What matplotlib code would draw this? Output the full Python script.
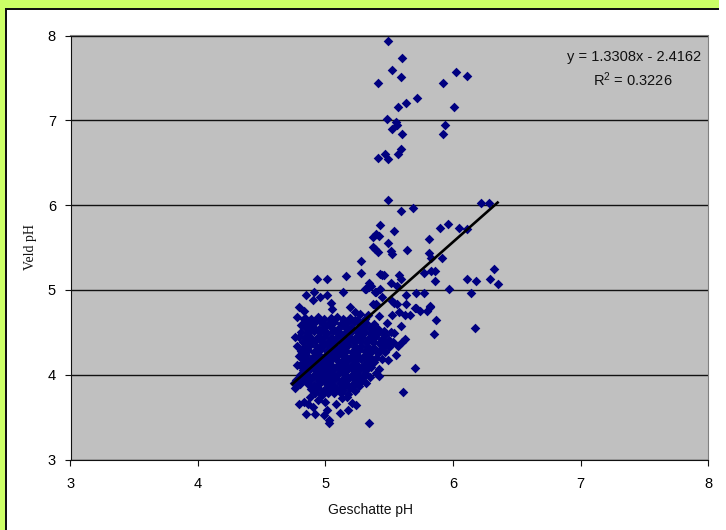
import matplotlib
matplotlib.use("Agg")
import matplotlib.pyplot as plt
from matplotlib.patches import Rectangle

plt.rcParams["mathtext.default"] = "regular"

# values (geschatte pH, veld pH)
upper_pts = [(5.49,7.94),(5.60,7.73),(5.52,7.59),(5.59,7.51),(5.41,7.44),(6.02,7.57),(6.11,7.52),(5.92,7.44),
    (5.72,7.26),(5.63,7.20),(5.57,7.16),(6.01,7.16),(5.48,7.01),(5.55,6.98),(5.56,6.95),(5.52,6.90),
    (5.94,6.94),(5.92,6.84),(5.60,6.84),(5.59,6.66),(5.57,6.60),(5.47,6.60),(5.41,6.56),(5.49,6.54)]

mid_pts = [(5.49,6.06),(6.22,6.02),(6.28,6.02),(5.69,5.97),(5.59,5.93),(5.96,5.78),(5.90,5.73),(6.05,5.73),
    (6.11,5.72),(5.43,5.76),(5.54,5.69),(5.40,5.66),(5.37,5.62),(5.42,5.64),(5.81,5.60),(5.49,5.55),
    (5.37,5.51),(5.39,5.48),(5.41,5.45),(5.51,5.46),(5.52,5.42),(5.64,5.47),(5.81,5.43),(5.83,5.38),
    (5.91,5.38),(5.28,5.34),(5.28,5.20),(5.44,5.17),(5.46,5.17),(5.58,5.17),(5.59,5.13),(5.77,5.20),
    (5.83,5.22),(5.86,5.22),(5.86,5.11),(6.32,5.25),(6.11,5.13),(6.18,5.11),(6.29,5.13),(6.35,5.07),
    (5.97,5.01),(6.14,4.96),(5.51,5.08),(5.56,5.05),(5.34,5.08),(5.36,5.05),(5.31,5.01),(5.34,5.03),
    (5.43,5.01),(5.39,4.97),(5.44,4.92),(5.63,4.94),(5.71,4.96),(5.77,4.96),(5.52,4.87),(5.56,4.83),
    (5.63,4.83),(5.37,4.83),(5.40,4.83),(5.70,4.79),(5.82,4.80),(5.87,4.65),(5.85,4.48),(5.70,4.08),
    (5.82,4.81),(5.80,4.75),(5.74,4.75),(5.71,4.79),(5.66,4.70),(5.62,4.70),(5.58,4.74),(5.54,4.84),
    (5.52,4.70),(5.59,4.57),(5.62,4.42),(5.60,4.38),(5.57,4.34),(5.54,4.49),(5.55,4.23),(5.42,4.69),
    (5.48,4.61),(5.49,4.17),(5.44,4.18),(5.42,4.07),(5.40,4.02),(5.42,3.98),(6.17,4.55),(5.61,3.80),
    (5.16,5.16),(4.93,5.13),(5.01,5.13),(5.14,4.97),(4.85,4.94),(4.91,4.97),(4.90,4.88),(4.96,4.92),
    (5.01,4.94),(5.04,4.85),(5.05,4.78),(5.19,4.80),(4.79,4.80),(4.83,4.75),(4.78,4.68),(4.83,4.66),
    (4.81,4.59),(5.23,4.74),(5.27,4.72),(5.32,5.01),(5.40,4.98),(5.39,4.82),(5.33,4.70),(5.43,5.19)]

low_pts = [(5.34,3.43),(5.03,3.43),(5.03,3.47),(5.11,3.55),(5.01,3.58),(4.99,3.53),(4.92,3.54),(4.85,3.54),
    (5.18,3.58),(5.21,3.67),(5.24,3.64),(4.79,3.65),(4.86,3.65),(4.90,3.62),(4.83,3.68),(4.76,3.84),
    (4.75,3.90),(4.77,3.94),(4.76,4.44),(4.79,4.22),(4.78,4.12),(5.08,3.66),(4.94,3.70),(5.00,3.68),
    (5.13,3.72),(5.17,3.74),(4.88,3.74),(4.97,3.76)]

blob_pts = [(4.84,4.67),(4.89,4.66),(4.94,4.68),(4.99,4.66),(5.04,4.67),(5.09,4.68),(5.14,4.66),(5.19,4.67),(5.25,4.65),(5.31,4.66),
    (4.83,4.61),(4.87,4.60),(4.92,4.62),(4.97,4.61),(5.02,4.60),(5.07,4.62),(5.12,4.60),(5.17,4.61),(5.22,4.62),(5.27,4.60),(5.32,4.61),(5.38,4.60),
    (4.85,4.55),(4.90,4.56),(4.95,4.54),(5.00,4.56),(5.05,4.55),(5.10,4.54),(5.15,4.56),(5.20,4.55),(5.25,4.54),(5.30,4.56),(5.35,4.55),(5.41,4.54),(5.46,4.52),
    (4.81,4.50),(4.86,4.49),(4.91,4.51),(4.96,4.50),(5.01,4.49),(5.06,4.51),(5.11,4.49),(5.16,4.50),(5.21,4.51),(5.26,4.49),(5.31,4.50),(5.36,4.48),(5.41,4.49),(5.47,4.47),(5.51,4.50),
    (4.79,4.44),(4.84,4.45),(4.89,4.43),(4.94,4.45),(4.99,4.44),(5.04,4.43),(5.09,4.45),(5.14,4.44),(5.19,4.43),(5.24,4.45),(5.29,4.44),(5.34,4.43),(5.39,4.44),(5.44,4.42),(5.50,4.41),
    (4.82,4.39),(4.87,4.38),(4.92,4.40),(4.97,4.38),(5.02,4.39),(5.07,4.40),(5.12,4.38),(5.17,4.39),(5.22,4.38),(5.27,4.40),(5.32,4.38),(5.37,4.39),(5.42,4.37),(5.48,4.36),(5.53,4.38),
    (4.78,4.34),(4.83,4.33),(4.88,4.35),(4.93,4.33),(4.98,4.34),(5.03,4.35),(5.08,4.33),(5.13,4.34),(5.18,4.35),(5.23,4.33),(5.28,4.34),(5.33,4.33),(5.38,4.32),(5.44,4.31),(5.50,4.33),
    (4.81,4.28),(4.86,4.29),(4.91,4.27),(4.96,4.29),(5.01,4.28),(5.06,4.27),(5.11,4.29),(5.16,4.28),(5.21,4.27),(5.26,4.29),(5.31,4.28),(5.36,4.27),(5.41,4.26),(5.47,4.27),
    (4.80,4.22),(4.85,4.23),(4.90,4.21),(4.95,4.23),(5.00,4.22),(5.05,4.21),(5.10,4.23),(5.15,4.22),(5.20,4.21),(5.25,4.23),(5.30,4.22),(5.35,4.21),(5.40,4.20),
    (4.83,4.17),(4.88,4.16),(4.93,4.18),(4.98,4.16),(5.03,4.17),(5.08,4.18),(5.13,4.16),(5.18,4.17),(5.23,4.16),(5.28,4.18),(5.33,4.16),(5.38,4.15),
    (4.80,4.11),(4.85,4.12),(4.90,4.10),(4.95,4.12),(5.00,4.11),(5.05,4.10),(5.10,4.12),(5.15,4.11),(5.20,4.10),(5.25,4.12),(5.30,4.11),(5.36,4.09),
    (4.82,4.06),(4.87,4.05),(4.92,4.07),(4.97,4.05),(5.02,4.06),(5.07,4.07),(5.12,4.05),(5.17,4.06),(5.22,4.05),(5.27,4.07),(5.32,4.05),
    (4.80,4.00),(4.85,4.01),(4.90,3.99),(4.95,4.01),(5.00,4.00),(5.05,3.99),(5.10,4.01),(5.15,4.00),(5.20,3.99),(5.25,4.01),(5.30,3.99),(5.35,3.97),
    (4.83,3.95),(4.88,3.94),(4.93,3.96),(4.98,3.94),(5.03,3.95),(5.08,3.96),(5.13,3.94),(5.18,3.95),(5.23,3.94),(5.28,3.93),(5.32,3.90),
    (4.80,3.89),(4.86,3.89),(4.91,3.88),(4.96,3.90),(5.01,3.89),(5.06,3.88),(5.11,3.90),(5.16,3.89),(5.21,3.88),(5.26,3.87),
    (4.89,3.83),(4.94,3.84),(4.99,3.82),(5.04,3.84),(5.09,3.83),(5.14,3.82),(5.19,3.84),(5.23,3.81),
    (4.92,3.79),(4.97,3.78),(5.02,3.79),(5.07,3.78),(5.12,3.79),(5.18,3.77)]

# denser middle of the cloud, where the marks overlap to a solid patch
core_pts = [(4.87,4.63),(4.96,4.64),(5.05,4.64),(5.15,4.63),(5.23,4.64),
    (4.88,4.52),(4.98,4.53),(5.08,4.52),(5.18,4.53),(5.28,4.52),(5.38,4.51),
    (4.86,4.41),(4.96,4.42),(5.06,4.42),(5.16,4.41),(5.26,4.42),(5.36,4.41),(5.46,4.39),
    (4.85,4.31),(4.95,4.31),(5.05,4.30),(5.15,4.31),(5.25,4.31),(5.35,4.30),(5.43,4.28),
    (4.83,4.25),(4.93,4.25),(5.03,4.25),(5.13,4.25),(5.23,4.25),(5.33,4.25),
    (4.85,4.19),(4.95,4.19),(5.05,4.19),(5.15,4.19),(5.25,4.19),(5.35,4.18),
    (4.83,4.14),(4.93,4.14),(5.03,4.14),(5.13,4.14),(5.23,4.14),(5.33,4.13),
    (4.85,4.08),(4.95,4.08),(5.05,4.08),(5.15,4.08),(5.25,4.09),
    (4.83,4.03),(4.93,4.03),(5.03,4.03),(5.13,4.03),(5.23,4.03),(5.31,4.02),
    (4.87,3.97),(4.97,3.97),(5.07,3.98),(5.17,3.97),(5.27,3.96),
    (4.85,3.92),(4.95,3.92),(5.05,3.92),(5.15,3.92),(5.24,3.91),
    (4.93,3.86),(5.03,3.86),(5.13,3.86),(5.20,3.85)]

trend_x = [4.74, 6.35]
trend_y = [3.89, 6.03]
ticks = [3, 4, 5, 6, 7, 8]

W, H = 726, 530
fig = plt.figure(figsize=(W / 100, H / 100), dpi=100, facecolor="white")

# lime frame with black inner edge
fig.patches.append(Rectangle((0, 1 - 8.5 / H), 719 / W, 8.5 / H, transform=fig.transFigure, fc="#CCFF66", ec="none"))
fig.patches.append(Rectangle((0, 0), 5 / W, 1, transform=fig.transFigure, fc="#CCFF66", ec="none"))
fig.patches.append(Rectangle((5 / W, 1 - 9.5 / H), 714 / W, 1.5 / H, transform=fig.transFigure, fc="#111111", ec="none"))
fig.patches.append(Rectangle((5 / W, 0), 1.5 / W, 1 - 8 / H, transform=fig.transFigure, fc="#111111", ec="none"))

ax = fig.add_axes([70.5 / W, 1 - 459.5 / H, (708 - 70.5) / W, (459.5 - 35.5) / H])
ax.set_facecolor("#C0C0C0")
ax.set_xlim(3, 8)
ax.set_ylim(3, 8)
ax.set_xticks(ticks)
ax.set_yticks(ticks)
ax.grid(axis="y", color="#111111", lw=1)
ax.set_axisbelow(True)

for k in ["top", "right"]:
    ax.spines[k].set_color("#808080")
for k in ["left", "bottom"]:
    ax.spines[k].set_color("#111111")

ax.tick_params(length=4, width=0.8, labelsize=10.5, color="#111111")
ax.tick_params(axis="x", pad=8.5)
ax.tick_params(axis="y", pad=6.5)
for t in ax.get_xticklabels() + ax.get_yticklabels():
    t.set_family("Liberation Sans")

for pts in [blob_pts, core_pts, low_pts, mid_pts, upper_pts]:
    xs, ys = zip(*pts)
    ax.scatter(xs, ys, marker="D", s=24, color="#000080", linewidths=0, zorder=3, clip_on=False)

ax.plot(trend_x, trend_y, color="black", lw=1.9, zorder=4)

ax.text(701, H - 57, "y = 1.3308x - 2.4162", transform=None, ha="right", va="center",
        family="Liberation Sans", fontsize=10.5, color="#111111")
ax.text(633, H - 80, "R$^2$ = 0.3226", transform=None, ha="center", va="center",
        family="Liberation Sans", fontsize=10.5, color="#111111")

ax.set_xlabel("Geschatte pH", family="Liberation Sans", fontsize=10, labelpad=8.5, color="#111111",
              x=(370 - 70.5) / (708 - 70.5))
ax.set_ylabel("Veld pH", family="Liberation Serif", fontsize=10, labelpad=8, color="#111111")

fig.savefig("out.png", dpi=100, facecolor="white")
